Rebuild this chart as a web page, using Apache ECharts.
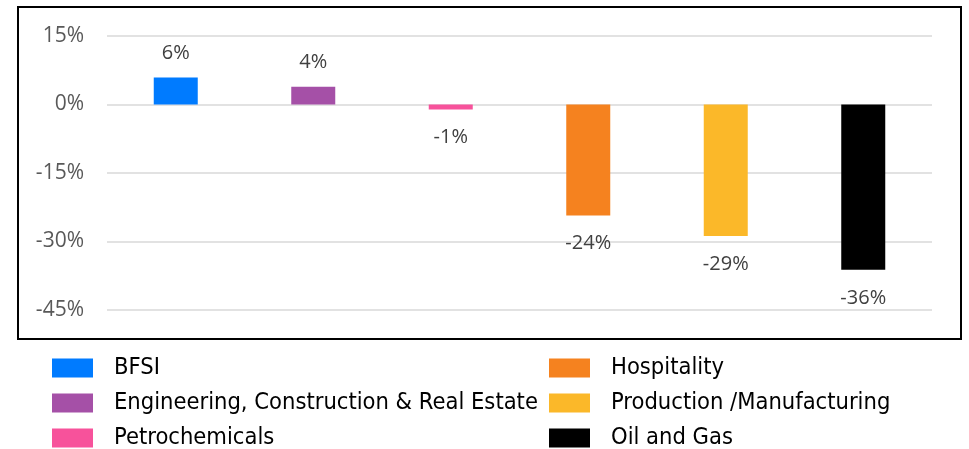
<!DOCTYPE html>
<html>
<head>
<meta charset="utf-8">
<script src="https://cdn.jsdelivr.net/npm/echarts@6/dist/echarts.min.js"></script>
<style>
  html, body { margin: 0; padding: 0; background: #fff; }
  #chart { width: 969px; height: 449px; }
</style>
</head>
<body>
<div id="chart"></div>
<script>
const categories = [
  "BFSI",
  "Engineering, Construction & Real Estate",
  "Petrochemicals",
  "Hospitality",
  "Production /Manufacturing",
  "Oil and Gas"
];
const values = [5.9, 3.9, -1.1, -24.3, -28.8, -36.2];
const labels = ["6%", "4%", "-1%", "-24%", "-29%", "-36%"];
const colors = ["#007BFF", "#A550A7", "#F7529B", "#F5821F", "#FBB829", "#000000"];
const legendLeft = categories.slice(0, 3);
const legendRight = categories.slice(3);

const axisFont = "'Open Sans', 'Noto Sans', sans-serif";
const legendFont = "'DejaVu Sans Condensed', 'DejaVu Sans', sans-serif";

function buildSeries() {
  return categories.map((name, i) => ({
    name,
    type: "bar",
    barWidth: 44,
    barGap: "-100%",
    itemStyle: { color: colors[i] },
    label: {
      show: true,
      position: values[i] >= 0 ? "top" : "bottom",
      distance: values[i] >= 0 ? 14 : 18,
      formatter: () => labels[i],
      color: "#404040",
      fontSize: 20,
      fontFamily: axisFont
    },
    data: categories.map((c, j) => (j === i ? values[i] : null))
  }));
}

function buildLegend(data, left) {
  return {
    data,
    orient: "vertical",
    left,
    top: 356,
    height: 160,
    padding: 0,
    itemWidth: 41,
    itemHeight: 19,
    itemGap: 11,
    icon: "rect",
    selectedMode: false,
    textStyle: {
      color: "#000",
      fontSize: 23.5,
      fontFamily: legendFont,
      padding: [0, 0, 0, 16]
    }
  };
}

const chart = echarts.init(document.getElementById("chart"));
chart.setOption({
  animation: false,
  backgroundColor: "#fff",
  grid: { left: 107, right: 37, top: 36, bottom: 139 },
  xAxis: {
    type: "category",
    data: categories,
    axisLine: { show: false },
    axisTick: { show: false },
    axisLabel: { show: false }
  },
  yAxis: {
    type: "value",
    min: -45,
    max: 15,
    interval: 15,
    axisLine: { show: false },
    axisTick: { show: false },
    axisLabel: {
      formatter: "{value}%",
      color: "#595959",
      fontSize: 21,
      fontFamily: axisFont,
      margin: 23
    },
    splitLine: { lineStyle: { color: "#D9D9D9", width: 1.5 } }
  },
  legend: [buildLegend(legendLeft, 52), buildLegend(legendRight, 549)],
  graphic: [
    {
      type: "rect",
      silent: true,
      z: 100,
      shape: { x: 18, y: 7, width: 943, height: 332 },
      style: { fill: "none", stroke: "#000", lineWidth: 2 }
    }
  ],
  series: buildSeries()
});
</script>
</body>
</html>
